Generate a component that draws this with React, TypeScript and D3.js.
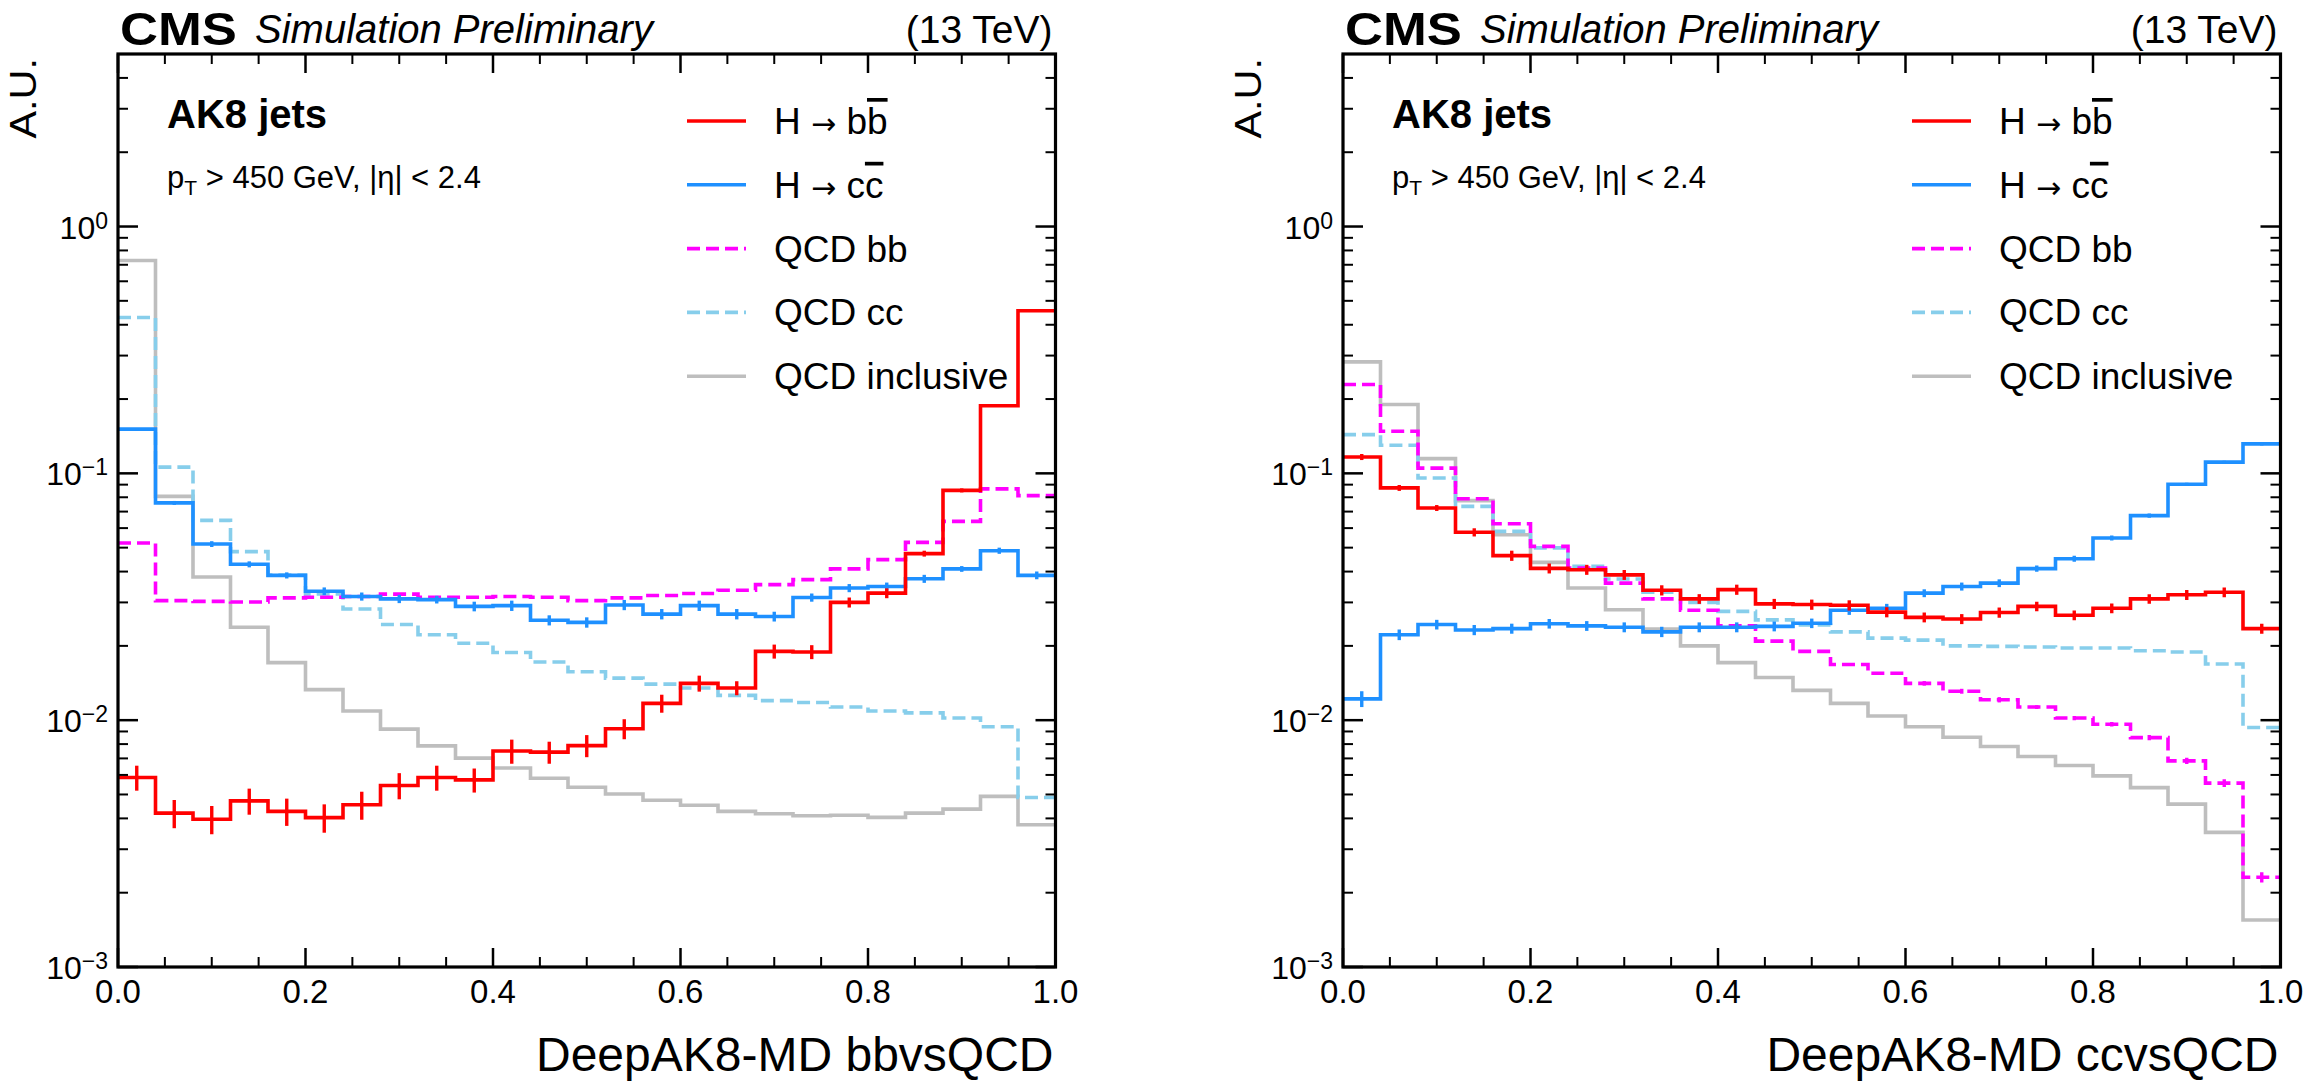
import * as d3 from "d3";

// bin lower edges (25 bins of 0.04)
const BIN_LOW = [
  0, 0.04, 0.08, 0.12, 0.16, 0.2, 0.24, 0.28, 0.32, 0.36, 0.4, 0.44, 0.48,
  0.52, 0.56, 0.6, 0.64, 0.68, 0.72, 0.76, 0.8, 0.84, 0.88, 0.92, 0.96,
];
const X_MAX = 1.0;

// ---- left panel: DeepAK8-MD bbvsQCD ----
const BB_HBB = [0.00586, 0.0042, 0.00397, 0.00471, 0.00427, 0.00403, 0.00454, 0.00544, 0.00586, 0.00573, 0.0075, 0.00742, 0.00789, 0.00923, 0.0117, 0.0141, 0.0135, 0.019, 0.0189, 0.030, 0.0327, 0.0473, 0.0853, 0.188, 0.456];
const BB_HBB_ERR = [0.00068, 0.00055, 0.00052, 0.00057, 0.00054, 0.00053, 0.00059, 0.00066, 0.00068, 0.00064, 0.00084, 0.00076, 0.00081, 0.00086, 0.00098, 0.00105, 0.00088, 0.00124, 0.00123, 0.0014, 0.0015, 0.0013, 0.0016, 0.0018, 0.002];
const BB_HCC = [0.151, 0.0759, 0.0517, 0.0428, 0.0386, 0.0333, 0.0317, 0.031, 0.0308, 0.0289, 0.0291, 0.0254, 0.0249, 0.0293, 0.0269, 0.0291, 0.0269, 0.0263, 0.0314, 0.0343, 0.0348, 0.0374, 0.041, 0.0486, 0.0386];
const BB_HCC_ERR = [0.0014, 0.0014, 0.0014, 0.0012, 0.0011, 0.0012, 0.0012, 0.0012, 0.0011, 0.0013, 0.0014, 0.0012, 0.0012, 0.0014, 0.0013, 0.0014, 0.0013, 0.0012, 0.0012, 0.0013, 0.0013, 0.0014, 0.0011, 0.0014, 0.0014];
const BB_QCDBB = [0.0522, 0.0305, 0.0303, 0.0301, 0.0313, 0.0315, 0.0317, 0.0324, 0.0315, 0.0315, 0.0317, 0.0315, 0.0305, 0.0313, 0.032, 0.0326, 0.0336, 0.0354, 0.0371, 0.041, 0.0447, 0.0525, 0.0639, 0.0865, 0.0812];
const BB_QCDCC = [0.428, 0.106, 0.0645, 0.0482, 0.0387, 0.0325, 0.0282, 0.0244, 0.0222, 0.0205, 0.0188, 0.0172, 0.0157, 0.0148, 0.014, 0.0135, 0.0126, 0.012, 0.0118, 0.0113, 0.0109, 0.0107, 0.0102, 0.0094, 0.00486];
const BB_QCDINC = [0.728, 0.0807, 0.038, 0.0238, 0.0171, 0.0133, 0.0109, 0.0092, 0.00787, 0.00702, 0.0064, 0.00582, 0.00535, 0.00502, 0.00474, 0.00452, 0.00427, 0.00418, 0.0041, 0.00412, 0.00404, 0.0042, 0.00436, 0.00491, 0.00377];

// ---- right panel: DeepAK8-MD ccvsQCD ----
const CC_HBB = [0.1165, 0.0873, 0.0724, 0.0577, 0.0464, 0.0412, 0.0407, 0.0388, 0.0336, 0.031, 0.0338, 0.0296, 0.0294, 0.0292, 0.0274, 0.0261, 0.0257, 0.0273, 0.0289, 0.0266, 0.0284, 0.031, 0.0322, 0.033, 0.0235];
const CC_HBB_ERR = [0.0033, 0.0024, 0.002, 0.0022, 0.0022, 0.0019, 0.0019, 0.0018, 0.0016, 0.0014, 0.0016, 0.0014, 0.0014, 0.0014, 0.0013, 0.0012, 0.0012, 0.0013, 0.0013, 0.0012, 0.0013, 0.0014, 0.0015, 0.0015, 0.0011];
const CC_HCC = [0.0122, 0.0222, 0.0244, 0.0232, 0.0235, 0.0246, 0.0241, 0.0238, 0.0228, 0.0238, 0.0238, 0.024, 0.0247, 0.0279, 0.0284, 0.0327, 0.0348, 0.0359, 0.0411, 0.0451, 0.0547, 0.0674, 0.0903, 0.111, 0.1316];
const CC_HCC_ERR = [0.0009, 0.0011, 0.0011, 0.0011, 0.0011, 0.0011, 0.0011, 0.0011, 0.0011, 0.0011, 0.0011, 0.0011, 0.0011, 0.0012, 0.0012, 0.0012, 0.0013, 0.0013, 0.0012, 0.0013, 0.0013, 0.0013, 0.0013, 0.0016, 0.0018];
const CC_QCDBB = [0.229, 0.148, 0.105, 0.0789, 0.0625, 0.0506, 0.0413, 0.0359, 0.031, 0.0279, 0.0241, 0.0209, 0.019, 0.0168, 0.0155, 0.0141, 0.0131, 0.0121, 0.0113, 0.0102, 0.00963, 0.0085, 0.00684, 0.00556, 0.00231];
const CC_QCDBB_ERR = [0, 0, 0, 0, 0, 0, 0, 0, 0, 0, 0, 0, 0, 0, 0, 0.0003, 0.0003, 0.0003, 0.0002, 0.0002, 0.0002, 0.0002, 0.0002, 0.0002, 0.00011];
const CC_QCDCC = [0.1435, 0.13, 0.0958, 0.0735, 0.0582, 0.0499, 0.042, 0.0373, 0.033, 0.03, 0.0276, 0.0255, 0.0243, 0.0228, 0.0215, 0.0211, 0.02, 0.0199, 0.0198, 0.0196, 0.0196, 0.0191, 0.0189, 0.0169, 0.00934];
const CC_QCDINC = [0.283, 0.19, 0.1147, 0.0775, 0.0564, 0.0436, 0.0343, 0.028, 0.0234, 0.02, 0.0171, 0.0149, 0.0132, 0.0117, 0.0104, 0.0094, 0.00853, 0.00782, 0.00713, 0.00655, 0.00595, 0.00533, 0.00457, 0.00351, 0.00155];

const X_MAJOR = [0, 0.2, 0.4, 0.6, 0.8, 1.0];
const X_TICK_LABELS = ["0.0", "0.2", "0.4", "0.6", "0.8", "1.0"];
const Y_DECADES = [-3, -2, -1, 0];

const LEGEND = [
  { key: "hbb", label: "hbb", color: "#ff0000", dash: null },
  { key: "hcc", label: "hcc", color: "#1e90ff", dash: null },
  { key: "qbb", label: "QCD bb", color: "#ff00ff", dash: "13,6" },
  { key: "qcc", label: "QCD cc", color: "#87ceeb", dash: "13,6" },
  { key: "qinc", label: "QCD inclusive", color: "#bebebe", dash: null },
];

const FONT = "'Liberation Sans', Arial, Helvetica, sans-serif";
const W = 2305;
const H = 1085;
const TOP = 54;
const BOTTOM = 967;
const PW = 937.5;

type Series = { key: string; values: number[]; errors?: number[] };

function Panel({ left, title, series }: { left: number; title: string; series: Series[] }) {
  const x = d3.scaleLinear().domain([0, X_MAX]).range([left, left + PW]);
  const y = d3.scaleLog().domain([1e-3, 5]).range([BOTTOM, TOP]);

  const line = d3
    .line<[number, number]>()
    .x((d) => x(d[0]))
    .y((d) => y(d[1]))
    .curve(d3.curveStepAfter);

  const xMinor = d3.range(0, 21).map((i) => i * 0.05).filter((v) => Math.round(v * 100) % 20 !== 0);
  const yMinor: number[] = [];
  for (const d of Y_DECADES) for (let m = 2; m <= 9; m++) {
    const v = m * Math.pow(10, d);
    if (v < 5) yMinor.push(v);
  }

  const style = (k: string) => LEGEND.find((l) => l.key === k)!;
  const order = ["qinc", "qcc", "qbb", "hcc", "hbb"];
  const sorted = order.map((k) => series.find((s) => s.key === k)!).filter(Boolean);

  return (
    <g fontFamily={FONT}>
      {/* header */}
      <text transform={`translate(${left + 2},45) scale(1.12,1)`} fontSize={47} fontWeight="bold">CMS</text>
      <text x={left + 137} y={43} fontSize={40} fontStyle="italic">Simulation Preliminary</text>
      <text x={left + PW - 3} y={43} fontSize={39} textAnchor="end">(13 TeV)</text>

      {/* histograms */}
      <g clipPath={`url(#clip-${left})`}>
        {sorted.map((s) => {
          const st = style(s.key);
          const pts: [number, number][] = s.values.map((v, i) => [BIN_LOW[i], v] as [number, number]);
          pts.push([X_MAX, s.values[s.values.length - 1]]);
          return (
            <g key={s.key}>
              <path d={line(pts) ?? undefined} fill="none" stroke={st.color} strokeWidth={3.6}
                strokeDasharray={st.dash ?? undefined} strokeLinejoin="miter" />
              {s.errors &&
                s.errors.map((e, i) =>
                  e > 0 ? (
                    <line key={i} x1={x(BIN_LOW[i] + 0.02)} x2={x(BIN_LOW[i] + 0.02)}
                      y1={y(s.values[i] - e)} y2={y(s.values[i] + e)} stroke={st.color} strokeWidth={3.4} />
                  ) : null,
                )}
            </g>
          );
        })}
      </g>

      {/* ticks */}
      {X_MAJOR.map((t) => (
        <g key={`xM${t}`} stroke="#000" strokeWidth={2.5}>
          <line x1={x(t)} x2={x(t)} y1={BOTTOM} y2={BOTTOM - 19} />
          <line x1={x(t)} x2={x(t)} y1={TOP} y2={TOP + 19} />
        </g>
      ))}
      {xMinor.map((t) => (
        <g key={`xm${t}`} stroke="#000" strokeWidth={2}>
          <line x1={x(t)} x2={x(t)} y1={BOTTOM} y2={BOTTOM - 10} />
          <line x1={x(t)} x2={x(t)} y1={TOP} y2={TOP + 10} />
        </g>
      ))}
      {Y_DECADES.map((d) => (
        <g key={`yM${d}`} stroke="#000" strokeWidth={2.5}>
          <line x1={left} x2={left + 20} y1={y(Math.pow(10, d))} y2={y(Math.pow(10, d))} />
          <line x1={left + PW} x2={left + PW - 20} y1={y(Math.pow(10, d))} y2={y(Math.pow(10, d))} />
        </g>
      ))}
      {yMinor.map((v) => (
        <g key={`ym${v}`} stroke="#000" strokeWidth={2}>
          <line x1={left} x2={left + 10} y1={y(v)} y2={y(v)} />
          <line x1={left + PW} x2={left + PW - 10} y1={y(v)} y2={y(v)} />
        </g>
      ))}

      {/* frame */}
      <rect x={left} y={TOP} width={PW} height={BOTTOM - TOP} fill="none" stroke="#000" strokeWidth={3.2} />

      {/* tick labels */}
      {X_MAJOR.map((t, i) => (
        <text key={`xl${t}`} x={x(t)} y={1003} fontSize={33} textAnchor="middle">{X_TICK_LABELS[i]}</text>
      ))}
      {Y_DECADES.map((d) => (
        <text key={`yl${d}`} x={left - 10} y={y(Math.pow(10, d)) + 12} fontSize={32} textAnchor="end">
          10<tspan dy={-10} fontSize={23}>{d === 0 ? "0" : `\u2212${-d}`}</tspan>
        </text>
      ))}

      {/* axis titles */}
      <text transform={`translate(${left - 82},${TOP + 4}) rotate(-90) scale(1.12,1)`} fontSize={37} textAnchor="end">A.U.</text>
      <text x={left + PW - 2} y={1071} fontSize={48} textAnchor="end">{title}</text>

      {/* annotations */}
      <text x={left + 49} y={128} fontSize={40} fontWeight="bold">AK8 jets</text>
      <text x={left + 49} y={188} fontSize={31}>
        p<tspan fontSize={21} dy={7}>T</tspan>
        <tspan dy={-7}> &gt; 450 GeV, |η| &lt; 2.4</tspan>
      </text>

      {/* legend */}
      {LEGEND.map((l, i) => {
        const ly = TOP + 67 + i * 63.8;
        return (
          <g key={l.key}>
            <line x1={left + 569} x2={left + 628} y1={ly} y2={ly} stroke={l.color} strokeWidth={3.6}
              strokeDasharray={l.dash ?? undefined} />
            <text x={left + 656} y={ly + 13} fontSize={37}>
              {l.key === "hbb" ? (
                <>H <tspan fontFamily="'DejaVu Sans', sans-serif" fontSize={30}>→</tspan> b<tspan style={{ textDecoration: "overline" }}>b</tspan></>
              ) : l.key === "hcc" ? (
                <>H <tspan fontFamily="'DejaVu Sans', sans-serif" fontSize={30}>→</tspan> c<tspan style={{ textDecoration: "overline" }}>c</tspan></>
              ) : (
                l.label
              )}
            </text>
          </g>
        );
      })}

      <defs>
        <clipPath id={`clip-${left}`}>
          <rect x={left} y={TOP} width={PW} height={BOTTOM - TOP} />
        </clipPath>
      </defs>
    </g>
  );
}

export default function App() {
  const left: Series[] = [
    { key: "hbb", values: BB_HBB, errors: BB_HBB_ERR },
    { key: "hcc", values: BB_HCC, errors: BB_HCC_ERR },
    { key: "qbb", values: BB_QCDBB },
    { key: "qcc", values: BB_QCDCC },
    { key: "qinc", values: BB_QCDINC },
  ];
  const right: Series[] = [
    { key: "hbb", values: CC_HBB, errors: CC_HBB_ERR },
    { key: "hcc", values: CC_HCC, errors: CC_HCC_ERR },
    { key: "qbb", values: CC_QCDBB, errors: CC_QCDBB_ERR },
    { key: "qcc", values: CC_QCDCC },
    { key: "qinc", values: CC_QCDINC },
  ];
  return (
    <>
      <style>{"body{margin:0;background:#fff}"}</style>
      <svg width={W} height={H} viewBox={`0 0 ${W} ${H}`} style={{ display: "block", background: "#fff" }}>
        <Panel left={118} title="DeepAK8-MD bbvsQCD" series={left} />
        <Panel left={1343} title="DeepAK8-MD ccvsQCD" series={right} />
      </svg>
    </>
  );
}
